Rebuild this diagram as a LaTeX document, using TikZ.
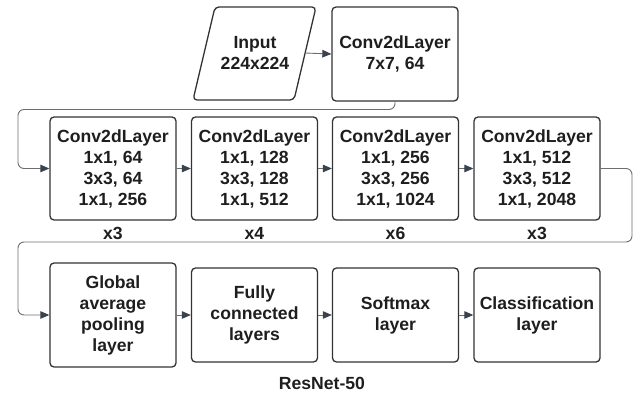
\documentclass[tikz,border=0pt]{standalone}
\usepackage{fontspec}
\setmainfont{Liberation Sans}
\usetikzlibrary{arrows.meta}
\definecolor{boxline}{HTML}{333333}
\definecolor{conn}{HTML}{6E6E6E}
\definecolor{tip}{HTML}{3A4250}
\definecolor{txt}{HTML}{1E1E1E}
\begin{document}
\begin{tikzpicture}[x=1pt,y=-1pt,
  every node/.style={font=\bfseries\fontsize{17.6}{21}\selectfont, text=txt, align=center, inner sep=0pt},
  layerbox/.style={draw=boxline, line width=1.3pt, rounded corners=4pt, minimum width=126pt},
  conn/.style={draw=conn, line width=0.9pt, rounded corners=6pt, -{Triangle[length=9pt,width=7.5pt,fill=tip,color=tip]}}]
\useasboundingbox (0,0) rectangle (635,396);
% input parallelogram
\draw[boxline, line width=1.3pt, rounded corners=4pt] (215,7) -- (316,7) -- (294,100) -- (193,100) -- cycle;
\node (in) at (255,53) {Input\\224x224};
\coordinate (inr) at (305,53);
% first conv
\node[layerbox, minimum height=94pt] (c0) at (395,54) {Conv2dLayer\\7x7, 64};
% row 2
\node[layerbox, minimum height=103pt] (b1) at (113,168.5) {Conv2dLayer\\1x1, 64\\3x3, 64\\1x1, 256};
\node[layerbox, minimum height=103pt] (b2) at (254.5,168.5) {Conv2dLayer\\1x1, 128\\3x3, 128\\1x1, 512};
\node[layerbox, minimum height=103pt] (b3) at (395.5,168.5) {Conv2dLayer\\1x1, 256\\3x3, 256\\1x1, 1024};
\node[layerbox, minimum height=103pt] (b4) at (537,168.5) {Conv2dLayer\\1x1, 512\\3x3, 512\\1x1, 2048};
\node (r1) at (113,233) {x3};
\node (r2) at (254.5,233) {x4};
\node (r3) at (395.5,233) {x6};
\node (r4) at (537,233) {x3};
% row 3
\node[layerbox, minimum height=104pt] (b5) at (113,315) {Global\\average\\pooling\\layer};
\node[layerbox, minimum height=94pt] (b6) at (254.5,315) {Fully\\connected\\layers};
\node[layerbox, minimum height=94pt] (b7) at (395.5,315) {Softmax\\layer};
\node[layerbox, minimum height=94pt] (b8) at (537,315) {Classification\\layer};
\node (title) at (322,383) {ResNet-50};
% connectors
\coordinate (k1) at (395,109.5);
\coordinate (k2) at (18,109.5);
\coordinate (k3) at (632,242);
\coordinate (k4) at (18,242);
\draw[conn] (inr) -- (c0.west);
\draw[conn] (c0.south) -- (k1) -- (k2) |- (b1.west);
\draw[conn] (b1) -- (b2);
\draw[conn] (b2) -- (b3);
\draw[conn] (b3) -- (b4);
\draw[conn] (b4.east) -| (k3) -- (k4) |- (b5.west);
\draw[conn] (b5) -- (b6);
\draw[conn] (b6) -- (b7);
\draw[conn] (b7) -- (b8);
\end{tikzpicture}
\end{document}
